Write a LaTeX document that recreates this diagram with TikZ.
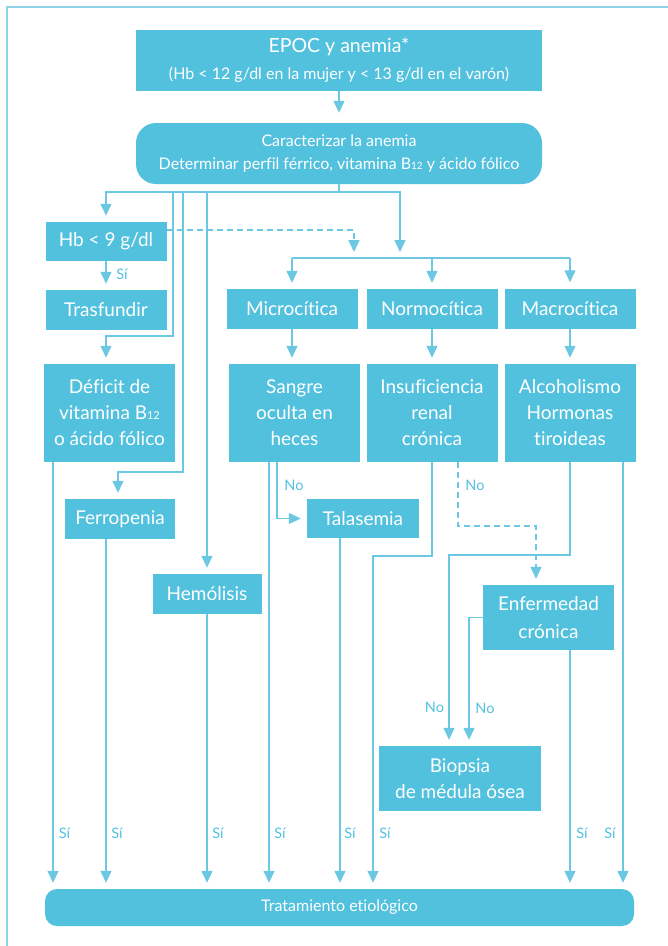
\documentclass[tikz,border=0pt]{standalone}
\usepackage{fontspec}
\setmainfont{Lato}[Ligatures=NoCommon]
\usetikzlibrary{arrows.meta}
\definecolor{boxc}{HTML}{52C1DE}
\definecolor{linec}{HTML}{6CC8E2}
\definecolor{framec}{HTML}{8FD3E8}
\begin{document}
\begin{tikzpicture}[x=1pt,y=-1pt,
  box/.style={fill=boxc, text=white, inner sep=0pt, align=center, font=\fontsize{19}{26}\selectfont},
  ln/.style={draw=linec, line width=1.3pt},
  arr/.style={ln, -{Triangle[length=12pt,width=11pt]}, shorten >=6pt},
  dsh/.style={dash pattern=on 6pt off 4pt},
  lab/.style={text=boxc, font=\fontsize{14.5}{16}\selectfont, inner sep=0pt}]
\useasboundingbox (0,0) rectangle (668,946);
% frame
\draw[framec, line width=1.5pt] (7,946) -- (7,7) -- (668,7);
% nodes
\node[box, minimum width=406pt, minimum height=61pt] (epoc) at (339,60.5)
  {{\fontsize{19.5}{20}\selectfont EPOC y anemia*}\\[1pt]{\fontsize{16}{18}\selectfont (Hb < 12 g/dl en la mujer y < 13 g/dl en el varón)}};
\node[box, rounded corners=20pt, minimum width=406pt, minimum height=61pt, font=\fontsize{16}{23}\selectfont] (carac) at (339,153.5)
  {Caracterizar la anemia\\Determinar perfil férrico, vitamina B{\fontsize{10}{10}\selectfont 12} y ácido fólico};
\node[box, minimum width=121pt, minimum height=39pt] (hb) at (106,241.5) {Hb < 9 g/dl};
\node[box, minimum width=121pt, minimum height=40pt] (tras) at (106,310) {Trasfundir};
\node[box, minimum width=131pt, minimum height=98pt] (defi) at (109.5,413) {Déficit de\\vitamina B{\fontsize{11}{11}\selectfont 12}\\o ácido fólico};
\node[box, minimum width=110pt, minimum height=40pt] (ferro) at (120,519) {Ferropenia};
\node[box, minimum width=109pt, minimum height=40pt] (hemo) at (207,594) {Hemólisis};
\node[box, minimum width=131pt, minimum height=40pt] (micro) at (292,309) {Microcítica};
\node[box, minimum width=131pt, minimum height=40pt] (normo) at (432,309) {Normocítica};
\node[box, minimum width=131pt, minimum height=40pt] (macro) at (570,308.5) {Macrocítica};
\node[box, minimum width=131pt, minimum height=98pt] (sangre) at (294.5,413) {Sangre\\oculta en\\heces};
\node[box, minimum width=131pt, minimum height=98pt] (insuf) at (432,413) {Insuficiencia\\renal\\crónica};
\node[box, minimum width=131pt, minimum height=98pt] (alco) at (570,413) {Alcoholismo\\Hormonas\\tiroideas};
\node[box, minimum width=112pt, minimum height=39pt] (tala) at (363,518.5) {Talasemia};
\node[box, minimum width=131pt, minimum height=65pt, font=\fontsize{19}{28}\selectfont] (enf) at (548.5,617.5) {Enfermedad\\crónica};
\node[box, minimum width=162pt, minimum height=65pt] (biop) at (460,778.5) {Biopsia\\de médula ósea};
\node[box, rounded corners=12pt, minimum width=589pt, minimum height=37pt, font=\fontsize{16}{18}\selectfont] (trat) at (339.5,907.5) {Tratamiento etiológico};
% connectors top
\coordinate (b0) at (339,192);
\draw[arr, shorten >=10pt] (epoc.south) -- (carac.north);
\draw[ln] (carac.south) -- (b0);
\draw[arr] (b0) -| (hb.north);
\draw[arr] (hb.south) -- (tras.north);
\node[lab] at (122,274) {Sí};
\draw[arr] (173,192) -- (173,336) -| (defi.north -| hb.south);
\draw[arr] (183,192) -- (183,472) -| (118,0 |- ferro.north);
\draw[arr] (207,192) -- (hemo.north);
\coordinate (c1) at (400,258);
\coordinate (c2) at (354,258);
\draw[arr] (b0) -| (c1);
\draw[arr, dsh] ([yshift=11.5pt]hb.east) -| (c2);
\draw[ln] (292,258) -- (570,258);
\draw[arr] (292,258) -- (micro.north);
\draw[arr] (432,258) -- (normo.north);
\draw[arr] (570,258) -- (macro.north);
\draw[arr] (micro.south) -- (micro.south |- sangre.north);
\draw[arr] (normo.south) -- (normo.south |- insuf.north);
\draw[arr] (macro.south) -- (macro.south |- alco.north);
% middle
\draw[arr] (277,0 |- sangre.south) |- (tala.west);
\node[lab] at (294,485) {No};
\draw[arr, dsh] (458,0 |- insuf.south) -- (458,526) -| (536,0 |- enf.north);
\node[lab] at (475,485) {No};
\draw[arr] (alco.south) -- (570,555) -| (449,0 |- biop.north);
\draw[arr] (enf.west) -| (469,0 |- biop.north);
\node[lab] at (434.5,707) {No};
\node[lab] at (485,708) {No};
% bottom
\draw[arr] (53,0 |- defi.south) -- (53,0 |- trat.north);
\draw[arr] (106,0 |- ferro.south) -- (106,0 |- trat.north);
\draw[arr] (hemo.south) -- (hemo.south |- trat.north);
\draw[arr] (269,0 |- sangre.south) -- (269,0 |- trat.north);
\draw[arr] (340,0 |- tala.south) -- (340,0 |- trat.north);
\draw[arr] (insuf.south) -- (432,556) -| (373,0 |- trat.north);
\draw[arr] (570,0 |- enf.south) -- (570,0 |- trat.north);
\draw[arr] (623,0 |- alco.south) -- (623,0 |- trat.north);
\foreach \xx in {64.5,117,218,280,350,385,582,610}
  \node[lab] at (\xx,833) {Sí};
\end{tikzpicture}
\end{document}
